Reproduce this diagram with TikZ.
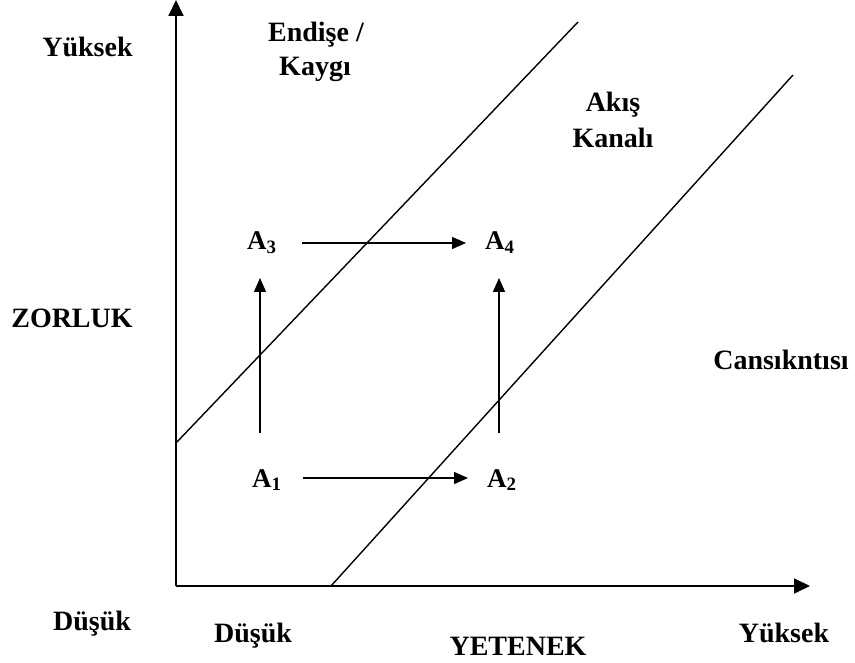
\documentclass[tikz,border=0pt]{standalone}
\usepackage{fontspec}
\setmainfont{Liberation Serif}
\usetikzlibrary{arrows.meta}
\begin{document}
\begin{tikzpicture}[x=1pt,y=-1pt,
  lbl/.style={font=\bfseries\fontsize{28}{34}\selectfont, inner sep=0pt, anchor=base},
  alab/.style={font=\bfseries\fontsize{27}{32}\selectfont, inner sep=0pt, anchor=base west},
  axis/.style={line width=1.8pt, -{Triangle[length=16pt,width=15pt]}},
  move/.style={line width=1.4pt, -{Triangle[length=14pt,width=12pt]}},
  diag/.style={line width=1.4pt}]
\useasboundingbox (0,0) rectangle (855,663);
% axes
\coordinate (O) at (176,586);
\coordinate (Ytop) at (176,0);
\coordinate (Xend) at (810,586);
\draw[axis] (O) -- (Ytop);
\draw[axis] (O) -- (Xend);
% diagonals
\coordinate (d1a) at (176,443);
\coordinate (d1b) at (578,22);
\coordinate (d2a) at (331,586);
\coordinate (d2b) at (793,75);
\draw[diag] (d1a) -- (d1b);
\draw[diag] (d2a) -- (d2b);
% A nodes
\node[alab] (a3) at (247,250) {A\textsubscript{3}};
\node[alab] (a4) at (485,250) {A\textsubscript{4}};
\node[alab] (a1) at (252,487) {A\textsubscript{1}};
\node[alab] (a2) at (487,487) {A\textsubscript{2}};
\coordinate (a3e) at (302,243);
\coordinate (a4w) at (466,243);
\coordinate (a1e) at (303,478);
\coordinate (a2w) at (468,478);
\coordinate (v1b) at (260,433);
\coordinate (v1t) at (260,278);
\coordinate (v2b) at (499,433);
\coordinate (v2t) at (499,278);
\draw[move] (a3e) -- (a4w);
\draw[move] (a1e) -- (a2w);
\draw[move] (v1b) -- (v1t);
\draw[move] (v2b) -- (v2t);
% labels
\node[lbl] (yk) at (87.5,57) {Yüksek};
\node[lbl] (endise) at (316,42) {Endişe /};
\node[lbl] (kaygi) at (315,76) {Kaygı};
\node[lbl] (akis) at (613,112) {Akış};
\node[lbl] (kanali) at (613,148) {Kanalı};
\node[lbl] (zor) at (72,328) {ZORLUK};
\node[lbl] (can) at (781,370) {Cansıkntısı};
\node[lbl] (dl) at (92,630) {Düşük};
\node[lbl] (db) at (253,642) {Düşük};
\node[lbl] (yet) at (518,655) {YETENEK};
\node[lbl] (yr) at (784,642) {Yüksek};
\end{tikzpicture}
\end{document}
